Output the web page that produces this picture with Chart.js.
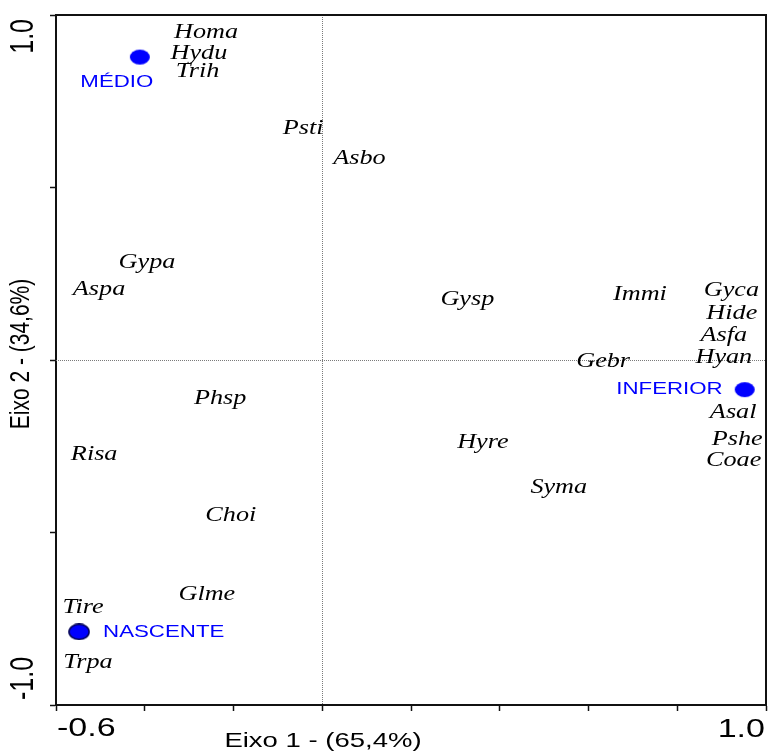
<!DOCTYPE html>
<html>
<head>
<meta charset="utf-8">
<title>Eixo 1 x Eixo 2</title>
<script src="https://cdn.jsdelivr.net/npm/chart.js@4/dist/chart.umd.min.js"></script>
<style>
  html, body { margin: 0; padding: 0; background: #ffffff; overflow: hidden; }
  canvas { display: block; }
</style>
</head>
<body>
<canvas id="ord" width="769" height="753"></canvas>
<script>
// Species scores on the first two ordination axes
const species = ['Homa', 'Hydu', 'Trih', 'Psti', 'Asbo', 'Gypa', 'Aspa', 'Gysp', 'Immi',
  'Gyca', 'Hide', 'Asfa', 'Hyan', 'Gebr', 'Asal', 'Pshe', 'Coae', 'Phsp', 'Risa',
  'Hyre', 'Syma', 'Choi', 'Glme', 'Tire', 'Trpa'];
const speciesX = [-0.262, -0.278, -0.281, -0.043, 0.084, -0.395, -0.503, 0.327, 0.716,
  0.922, 0.923, 0.905, 0.905, 0.633, 0.926, 0.935, 0.927, -0.230, -0.514,
  0.362, 0.533, -0.206, -0.260, -0.539, -0.528];
const speciesY = [0.948, 0.887, 0.835, 0.669, 0.582, 0.283, 0.205, 0.176, 0.190,
  0.202, 0.135, 0.071, 0.007, -0.004, -0.152, -0.231, -0.292, -0.112, -0.274,
  -0.240, -0.370, -0.452, -0.681, -0.719, -0.878];

// Site scores
const sites = ['MÉDIO', 'INFERIOR', 'NASCENTE'];
const siteX = [-0.411, 0.952, -0.548];
const siteY = [0.878, -0.086, -0.788];

// Axis ranges and the labelled end ticks
const xTickValues = [-0.6, 1.0];
const yTickValues = [1.0, -1.0];
const xTitle = 'Eixo 1 - (65,4%)';
const yTitle = 'Eixo 2 - (34,6%)';

// Text is drawn slightly widened horizontally
const SX = 1.31;
const INK = '#111111';
const BLUE = '#0000ff';

function wideText(ctx, text, x, y, font, color, align, baseline, rotate) {
  ctx.save();
  ctx.translate(x, y);
  ctx.scale(SX, 1);
  if (rotate) ctx.rotate(-Math.PI / 2);
  ctx.font = font;
  ctx.fillStyle = color;
  ctx.textAlign = align;
  ctx.textBaseline = baseline;
  ctx.fillText(text, 0, 0);
  ctx.restore();
}

function ellipseMarker(fill, stroke) {
  const c = document.createElement('canvas');
  c.width = 22; c.height = 17;
  const g = c.getContext('2d');
  g.beginPath();
  g.ellipse(11, 8.5, 10, 7.6, 0, 0, Math.PI * 2);
  g.fillStyle = fill;
  g.fill();
  if (stroke) { g.lineWidth = 1.6; g.strokeStyle = stroke; g.stroke(); }
  return c;
}
const siteMarkers = [ellipseMarker(BLUE), ellipseMarker(BLUE), ellipseMarker(BLUE, '#00005a')];

// Where each site name sits relative to its marker
const siteLabelPlace = [
  { dx: -23, dy: 25, align: 'center' },
  { dx: -22, dy: 0, align: 'right' },
  { dx: 24, dy: 0, align: 'left' }
];

const decorations = {
  id: 'decorations',
  beforeDatasetsDraw(chart) {
    const { ctx, chartArea: a, scales: { x, y } } = chart;
    ctx.save();
    // dotted zero lines
    ctx.strokeStyle = '#7a7a7a';
    ctx.lineWidth = 1;
    ctx.setLineDash([1, 1]);
    const x0 = Math.round(x.getPixelForValue(0)) + 0.5;
    const y0 = Math.round(y.getPixelForValue(0)) + 0.5;
    ctx.beginPath();
    ctx.moveTo(x0, a.top); ctx.lineTo(x0, a.bottom);
    ctx.moveTo(a.left, y0); ctx.lineTo(a.right, y0);
    ctx.stroke();
    // top and right frame lines
    ctx.setLineDash([]);
    ctx.strokeStyle = INK;
    ctx.lineWidth = 2;
    ctx.beginPath();
    ctx.moveTo(a.left, a.top); ctx.lineTo(a.right, a.top); ctx.lineTo(a.right, a.bottom);
    ctx.stroke();
    ctx.restore();
  },
  afterDatasetsDraw(chart) {
    const { ctx, scales: { x, y } } = chart;
    // species names
    const sp = chart.getDatasetMeta(0).data;
    sp.forEach((pt, i) => {
      wideText(ctx, species[i], pt.x, pt.y, 'italic 20px "Liberation Serif", "Times New Roman", serif',
        '#000000', 'center', 'middle', false);
    });
    // site names
    const st = chart.getDatasetMeta(1).data;
    st.forEach((pt, i) => {
      const p = siteLabelPlace[i];
      wideText(ctx, sites[i], pt.x + p.dx, pt.y + p.dy, '17px "Liberation Sans", Arial, sans-serif',
        BLUE, p.align, 'middle', false);
    });
    // end tick labels
    const tickFont = '26px "Liberation Sans", Arial, sans-serif';
    wideText(ctx, xTickValues[0].toFixed(1), x.getPixelForValue(xTickValues[0]) + 1, 729, tickFont, '#000', 'left', 'middle', false);
    wideText(ctx, xTickValues[1].toFixed(1), x.getPixelForValue(xTickValues[1]) - 1, 730, tickFont, '#000', 'right', 'middle', false);
    const yFont = '25px "Liberation Sans", Arial, sans-serif';
    wideText(ctx, yTickValues[0].toFixed(1), 24, y.getPixelForValue(yTickValues[0]) + 4, yFont, '#000', 'right', 'middle', true);
    wideText(ctx, yTickValues[1].toFixed(1), 24, y.getPixelForValue(yTickValues[1]) - 5, yFont, '#000', 'left', 'middle', true);
    // axis titles
    const titleFont = '21px "Liberation Sans", Arial, sans-serif';
    wideText(ctx, xTitle, 323, 741, titleFont, '#000', 'center', 'middle', false);
    wideText(ctx, yTitle, 21, 354, titleFont, '#000', 'center', 'middle', true);
  }
};

new Chart(document.getElementById('ord'), {
  type: 'scatter',
  data: {
    datasets: [
      {
        label: 'Espécies',
        data: species.map((s, i) => ({ x: speciesX[i], y: speciesY[i] })),
        pointRadius: 0,
        pointHoverRadius: 0
      },
      {
        label: 'Trechos',
        data: sites.map((s, i) => ({ x: siteX[i], y: siteY[i] })),
        pointStyle: siteMarkers,
        pointRadius: 9,
        pointHoverRadius: 9
      }
    ]
  },
  options: {
    responsive: false,
    animation: false,
    events: [],
    layout: { autoPadding: false, padding: { top: 15, right: 3, left: 0, bottom: 0 } },
    plugins: { legend: { display: false }, tooltip: { enabled: false } },
    scales: {
      x: {
        type: 'linear',
        min: -0.6,
        max: 1.0,
        ticks: { display: false, stepSize: 0.2 },
        grid: { drawOnChartArea: false, drawTicks: true, tickLength: 6, tickColor: INK, tickWidth: 1.5 },
        border: { display: true, color: INK, width: 2 },
        afterFit(scale) { scale.height = 48; }
      },
      y: {
        type: 'linear',
        min: -1.0,
        max: 1.0,
        ticks: { display: false, stepSize: 0.5 },
        grid: { drawOnChartArea: false, drawTicks: true, tickLength: 6, tickColor: INK, tickWidth: 1.5 },
        border: { display: true, color: INK, width: 2 },
        afterFit(scale) { scale.width = 56; }
      }
    }
  },
  plugins: [decorations]
});
</script>
</body>
</html>
